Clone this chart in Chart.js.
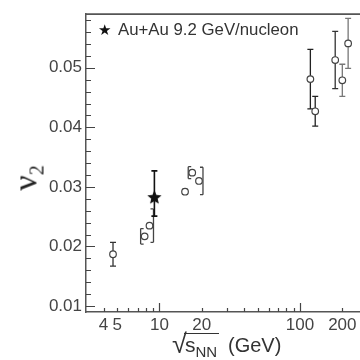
<!DOCTYPE html>
<html>
<head>
<meta charset="utf-8">
<script src="https://cdn.jsdelivr.net/npm/chart.js@4.4.1/dist/chart.umd.min.js"></script>
<style>
  html, body { margin: 0; padding: 0; background: #fff; overflow: hidden; }
  #wrap { position: relative; width: 360px; height: 360px; overflow: hidden; }
  #box { position: absolute; left: 0; top: 0; width: 380px; height: 360px; }
  .txt { position: absolute; white-space: nowrap; color: #333; font-family: "Liberation Sans", Arial, sans-serif; }
  #legStar { left: 98px; top: 21px; font-size: 15px; line-height: 18px; color: #111; font-family: "DejaVu Sans", sans-serif; }
  #legText { left: 118px; top: 21px; font-size: 16.8px; line-height: 18px; }
  #ytitle { left: 31px; top: 178px; font-family: "Liberation Serif", serif; font-size: 34px; line-height: 34px; color: #222;
            transform: translate(-50%, -50%) rotate(-90deg); }
  #ytitle sub { font-size: 20px; vertical-align: -7px; }
  #xtitle { left: 172px; top: 332px; font-size: 21px; line-height: 24px; }
  #xtitle .root { position: absolute; left: 0; top: -1px; font-size: 27px; line-height: 27px; }
  #xtitle .rad { position: absolute; left: 12px; top: 1px; border-top: 1.4px solid #333; padding: 0 2px 0 1px; line-height: 22px; }
  #xtitle sub { font-size: 15px; vertical-align: -5px; }
  #xtitle .unit { position: absolute; left: 56px; top: 2px; font-size: 20px; line-height: 22px; }
</style>
</head>
<body>
<div id="wrap">
  <div id="box"><canvas id="c"></canvas></div>
  <div class="txt" id="legStar">★</div>
  <div class="txt" id="legText">Au+Au 9.2 GeV/nucleon</div>
  <div class="txt" id="ytitle">ν<sub>2</sub></div>
  <div class="txt" id="xtitle"><span class="root">√</span><span class="rad">s<sub>NN</sub></span><span class="unit">(GeV)</span></div>
</div>
<script>
// open symbols: world data
const openX    = [4.67, 7.84, 8.49, 15.2, 17.1, 19.1, 118.5, 128.3, 178, 200, 220];
const openY    = [0.0187, 0.0217, 0.0235, 0.0292, 0.0324, 0.0310, 0.0481, 0.0427, 0.0513, 0.0479, 0.0541];
const openErr  = [0.0020, 0.0013, 0.0028, 0.0004, 0.0010, 0.0023, 0.0050, 0.0025, 0.0048, 0.0027, 0.0042];
// bracket side of the bar (-1 left, 1 right, 0 plain I-bar) and its colour
const openSide = [0, -1, 1, 0, -1, 1, 0, 0, 0, 0, 0];
const openBarColor = ['#333', '#444', '#444', '#444', '#444', '#444', '#222', '#222', '#333', '#777', '#777'];

// filled star: Au+Au 9.2 GeV/nucleon
const starX = [9.2];
const starY = [0.0282];
const starErrUp = [0.0045];
const starErrDown = [0.0031];

// axis ticks
const xTickVals = [4, 5, 6, 7, 8, 9, 10, 20, 30, 40, 50, 60, 70, 80, 90, 100, 200, 300];
const xTickLabels = [4, 5, 10, 20, 100, 200];
const xMajor = [10, 100];
const yTickVals = [0.01, 0.02, 0.03, 0.04, 0.05];
const yMinorVals = [];
for (let k = 10; k <= 58; k += 2) yMinorVals.push(k / 1000);

const openPts = openX.map((x, i) => ({ x: x, y: openY[i], up: openErr[i], down: openErr[i], side: openSide[i], col: openBarColor[i] }));
const starPts = starX.map((x, i) => ({ x: x, y: starY[i], up: starErrUp[i], down: starErrDown[i], side: 0, col: '#111' }));

function makeStar(r) {
  const c = document.createElement('canvas');
  c.width = c.height = Math.ceil(2 * r + 2);
  const g = c.getContext('2d');
  const m = c.width / 2;
  g.beginPath();
  for (let i = 0; i < 10; i++) {
    const a = -Math.PI / 2 + i * Math.PI / 5;
    const rr = i % 2 ? r * 0.45 : r;
    g.lineTo(m + rr * Math.cos(a), m + rr * Math.sin(a));
  }
  g.closePath();
  g.fillStyle = '#111';
  g.fill();
  return c;
}

const errorBars = {
  id: 'errorBars',
  beforeDatasetsDraw(chart) {
    const { ctx, scales: { x, y } } = chart;
    ctx.save();
    chart.data.datasets.forEach((ds, di) => {
      ds.data.forEach(p => {
        const px = x.getPixelForValue(p.x);
        const top = y.getPixelForValue(p.y + p.up);
        const bot = y.getPixelForValue(p.y - p.down);
        const lx = px + p.side * 4;
        ctx.strokeStyle = p.col;
        ctx.lineWidth = di === 1 ? 1.6 : 1.3;
        ctx.beginPath();
        ctx.moveTo(lx, top); ctx.lineTo(lx, bot);
        if (p.side === 0) {
          ctx.moveTo(lx - 3, top); ctx.lineTo(lx + 3, top);
          ctx.moveTo(lx - 3, bot); ctx.lineTo(lx + 3, bot);
        } else {
          ctx.moveTo(lx, top); ctx.lineTo(lx - p.side * 3, top);
          ctx.moveTo(lx, bot); ctx.lineTo(lx - p.side * 3, bot);
        }
        ctx.stroke();
      });
    });
    ctx.restore();
  }
};

// inward tick marks and the top frame line
const innerTicks = {
  id: 'innerTicks',
  beforeDatasetsDraw(chart) {
    const { ctx, chartArea: a, scales: { x, y } } = chart;
    ctx.save();
    ctx.strokeStyle = '#444';
    ctx.lineWidth = 1.2;
    ctx.beginPath();
    xTickVals.forEach(v => {
      const px = Math.round(x.getPixelForValue(v)) + 0.5;
      const len = xMajor.includes(v) ? 9 : 4;
      ctx.moveTo(px, a.bottom); ctx.lineTo(px, a.bottom - len);
    });
    yMinorVals.forEach(v => {
      const py = Math.round(y.getPixelForValue(v)) + 0.5;
      const len = yTickVals.some(t => Math.abs(t - v) < 1e-9) ? 9 : 5;
      ctx.moveTo(a.left, py); ctx.lineTo(a.left + len, py);
    });
    ctx.stroke();
    ctx.lineWidth = 1.8;
    ctx.strokeStyle = '#555';
    ctx.beginPath();
    ctx.moveTo(a.left, a.top); ctx.lineTo(a.right, a.top);
    ctx.stroke();
    ctx.restore();
  }
};

const tickFont = { family: '"Liberation Sans", Arial, sans-serif', size: 17 };

new Chart(document.getElementById('c'), {
  type: 'scatter',
  data: {
    datasets: [
      {
        label: 'data',
        data: openPts,
        pointStyle: 'circle',
        pointRadius: 3.3,
        pointBorderWidth: 1.2,
        pointBorderColor: '#444',
        pointBackgroundColor: '#fff'
      },
      {
        label: 'Au+Au 9.2 GeV/nucleon',
        data: starPts,
        pointStyle: makeStar(7.5),
        pointRadius: 8
      }
    ]
  },
  options: {
    responsive: true,
    maintainAspectRatio: false,
    animation: false,
    layout: { padding: { top: 6, right: 0, bottom: 0, left: 0 } },
    plugins: { legend: { display: false }, tooltip: { enabled: false } },
    scales: {
      x: {
        type: 'logarithmic',
        min: 3,
        max: 320,
        grid: { display: false, drawTicks: false },
        border: { display: true, color: '#555', width: 1.5 },
        ticks: {
          autoSkip: false,
          maxRotation: 0,
          padding: 3,
          color: '#444',
          font: tickFont,
          callback: v => xTickLabels.includes(v) ? String(v) : ''
        },
        afterBuildTicks: s => { s.ticks = xTickVals.map(v => ({ value: v })); },
        afterFit: s => { s.height = 48; }
      },
      y: {
        type: 'linear',
        min: 0.009,
        max: 0.059,
        grid: { display: false, drawTicks: false },
        border: { display: true, color: '#555', width: 1.5 },
        ticks: {
          padding: 4,
          color: '#444',
          font: tickFont,
          callback: v => v.toFixed(2)
        },
        afterBuildTicks: s => { s.ticks = yTickVals.map(v => ({ value: v })); },
        afterFit: s => { s.width = 86; }
      }
    }
  },
  plugins: [errorBars, innerTicks]
});
</script>
</body>
</html>
